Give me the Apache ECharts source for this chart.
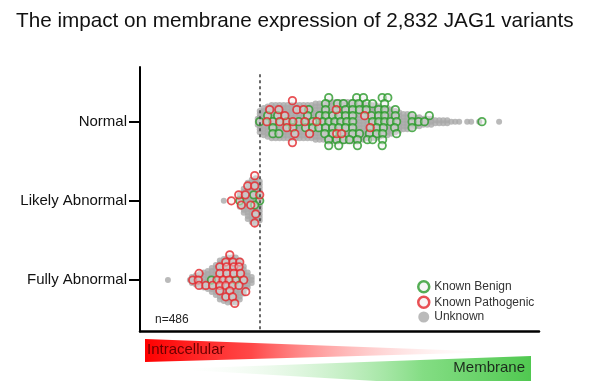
<!DOCTYPE html>
<html><head><meta charset="utf-8">
<script src="https://cdn.jsdelivr.net/npm/echarts@6/dist/echarts.min.js"></script>
<style>html,body{margin:0;padding:0;background:#fff}#c{width:602px;height:381px}</style>
</head><body><div id="c"></div>
<script>
// ---- data ----
const titleText = 'The impact on membrane expression of 2,832 JAG1 variants';
const categories = ['Fully Abnormal', 'Likely Abnormal', 'Normal']; // bottom -> top
const membraneThreshold = 30;
const abnormalCountLabel = 'n=486';

// Unknown variants: [expression bin, number of variants stacked in the swarm]
const normalUnknown = [[29.5,3],[30,8],[31,10],[32,11],[33,12],[34,12],[35,12],[36,12],[37,12],[38,12],[39,12],[40,12],[41,12],[42,12],[43,12],[44,13],[45,13],[46,13],[47,14],[48,14],[49,14],[50,14],[51,14],[52,14],[53,14],[54,14],[55,13],[56,13],[57,12],[58,12],[59,12],[60,11],[61,10],[62,10],[63,9],[64,8],[65,7],[66,6],[67,6],[68,5],[69,4],[70,4],[71,3],[72,3],[73,3],[74,2],[75,2],[76,2],[77,2],[78,1],[79,1],[80,1],[82,1],[83,1],[85,1],[90,1]];
const likelyUnknown = [[21,1],[25,5],[26,9],[27,13],[28,15],[29,16],[30,14]];
const fullyUnknown = [[7,1],[12.5,1],[13,3],[14,4],[15,5],[16,6],[17,7],[18,9],[19,11],[20,14],[21,15],[22,16],[23,16],[24,16],[25,14],[26,10],[27,6],[28,3]];

// Known benign / pathogenic: [expression, swarm lane]
const normalBenign = [
 [47.3,4],[54.3,4],[56,4],[60.7,4],[62.1,4],
 [46.5,3],[49.5,3],[51,3],[53.3,3],[54.8,3],[56.8,3],[58.3,3],[61.3,3],
 [42.3,2],[46.5,2],[51.5,2],[53.3,2],[55,2],[56.7,2],[59.8,2],[61.3,2],[64,2],
 [32,1],[34.5,1],[42,1],[45,1],[46.5,1],[48.3,1],[49.8,1],[51.5,1],[53.3,1],[58,1],[59.8,1],[61.3,1],[64,1],[68.2,1],[72.5,1],
 [30,0],[33.3,0],[36.8,0],[39.8,0],[43.3,0],[45.8,0],[47.3,0],[48.8,0],[50.3,0],[51.8,0],[53.3,0],[58.3,0],[59.8,0],[61.3,0],[62.8,0],[64.3,0],[68.2,0],[69.8,0],[71.3,0],[85.7,0],
 [33.3,-1],[38.3,-1],[41.5,-1],[43.3,-1],[44.8,-1],[46.5,-1],[48.3,-1],[49.8,-1],[51.5,-1],[53.3,-1],[59.3,-1],[61,-1],[63.8,-1],[68.2,-1],
 [33.3,-2],[34.8,-2],[46.3,-2],[48.3,-2],[53.3,-2],[55,-2],[57.5,-2],[59.3,-2],[60.8,-2],[64.3,-2],
 [47.3,-3],[49.3,-3],[51,-3],[52.5,-3],[54.5,-3],[57,-3],[58.3,-3],[60.8,-3],
 [47.3,-4],[49.8,-4],[54.5,-4],[60.7,-4]
];
const normalPathogenic = [
 [38.2,3.5],[32.5,2],[34.8,2],[39.3,2],[41,2],[49.2,2],[36.3,1],[56.3,1],
 [31.8,0],[35,0],[38.3,0],[41.3,0],[44.3,0],[36.8,-1],[57.7,-1],
 [38.8,-2],[42.5,-2],[49.3,-2],[50.5,-2],[38.2,-3.5]
];
const likelyBenign = [[28.5,1],[25,0],[30,0],[28.75,-0.7]];
const likelyPathogenic = [[28.75,4.2],[27,2.5],[28.75,2.5],[24.75,1],[26.4,1],[30,1],[22.9,0],[25.4,-0.7],[27.75,-0.7],[29,-2.2],[28.75,-3.7]];
const fullyBenign = [[17.9,0],[24,0]];
const fullyPathogenic = [
 [22.5,4.2],[21.5,3],[23.3,3],[25,3],
 [20,2.2],[21.7,2.2],[23.5,2.2],[24.8,2.2],
 [14.8,1.1],[20,1.1],[21.75,1.1],[23.5,1.1],[25.2,1.1],
 [13.2,0],[14.6,0],[19.3,0],[20.8,0],[22.3,0],[26,0],
 [14.8,-0.9],[16.5,-0.9],[18.2,-0.9],[20,-0.9],[21.5,-0.9],[23.2,-0.9],[24.8,-0.9],
 [20,-1.8],[22.5,-1.8],[26.5,-1.95],
 [21.5,-2.8],[23.2,-2.8],[23.75,-3.9]
];

// ---- swarm layout (vertical spread inside each category band) ----
const laneStep = 0.0757;   // one ring diameter in y-axis units
const stackStep = 0.038;   // spacing of stacked unknown dots
function stackUnknown(bins, catIdx) {
  const pts = [];
  bins.forEach(([x, n]) => {
    for (let j = 0; j < n; j++) pts.push([x, catIdx + 1 + (j - (n - 1) / 2) * stackStep]);
  });
  return pts;
}
function lanes(list, catIdx) { return list.map(([x, lane]) => [x, catIdx + 1 + lane * laneStep]); }

const unknownPts = [].concat(stackUnknown(fullyUnknown, 0), stackUnknown(likelyUnknown, 1), stackUnknown(normalUnknown, 2));
const benignPts = [].concat(lanes(fullyBenign, 0), lanes(likelyBenign, 1), lanes(normalBenign, 2));
const pathoPts = [].concat(lanes(fullyPathogenic, 0), lanes(likelyPathogenic, 1), lanes(normalPathogenic, 2));

const FONT = '"Liberation Sans", Arial, sans-serif';
const chart = echarts.init(document.getElementById('c'), null, {renderer: 'canvas'});
chart.setOption({
  animation: false,
  backgroundColor: '#fff',
  title: {text: titleText, left: 11, top: 6,
    textStyle: {fontFamily: FONT, fontSize: 20.7, fontWeight: 'normal', color: '#111'}},
  grid: {left: 140, right: 63, top: 67, bottom: 49.5},
  xAxis: {type: 'value', min: 0, max: 100, axisLabel: {show: false}, axisTick: {show: false},
    splitLine: {show: false}, axisLine: {lineStyle: {color: '#000', width: 2.5}}},
  yAxis: {type: 'value', min: 0.35, max: 3.69, splitLine: {show: false},
    axisLine: {show: true, lineStyle: {color: '#000', width: 2}},
    axisTick: {show: true, length: 11, customValues: [1, 2, 3], lineStyle: {color: '#000', width: 2}},
    axisLabel: {customValues: [1, 2, 3], margin: 13, formatter: v => categories[Math.round(v) - 1] || '',
      fontFamily: FONT, fontSize: 15, color: '#111'}},
  legend: {orient: 'vertical', left: 412, top: 275, itemGap: 2, itemWidth: 11, itemHeight: 11,
    textStyle: {fontFamily: FONT, fontSize: 12, color: '#333'},
    data: [{name: 'Known Benign', itemStyle: {borderWidth: 2.5}},
           {name: 'Known Pathogenic', itemStyle: {borderWidth: 2.5}},
           {name: 'Unknown'}]},
  series: [
    {name: 'Unknown', type: 'scatter', data: unknownPts, symbolSize: 6, progressive: 0, z: 1,
      itemStyle: {color: '#a9a9a9'},
      markLine: {silent: true, symbol: 'none', label: {show: false},
        lineStyle: {type: [3, 3], color: '#444', width: 1.6},
        data: [[{coord: [membraneThreshold, 3.6]}, {coord: [membraneThreshold, 0.35]}]]}},
    {name: 'Known Benign', type: 'scatter', data: benignPts, symbolSize: 7.5, progressive: 0, z: 2,
      itemStyle: {color: 'rgba(235,235,235,0.55)', borderColor: '#2a9a2a', borderWidth: 1.8}},
    {name: 'Known Pathogenic', type: 'scatter', data: pathoPts, symbolSize: 7.5, progressive: 0, z: 3,
      itemStyle: {color: 'rgba(240,235,235,0.55)', borderColor: '#e3262b', borderWidth: 1.8}}
  ],
  graphic: [
    {type: 'text', left: 155, top: 314, style: {text: abnormalCountLabel, fontFamily: FONT, fontSize: 12, fill: '#222'}},
    {type: 'polygon', shape: {points: [[145, 339], [500, 352], [145, 362]]},
      style: {fill: new echarts.graphic.LinearGradient(0, 0, 1, 0, [
        {offset: 0, color: 'rgba(255,0,0,1)'}, {offset: 0.3, color: 'rgba(255,40,40,0.85)'},
        {offset: 1, color: 'rgba(255,255,255,0)'}])}},
    {type: 'polygon', shape: {points: [[170, 369], [531, 356], [531, 390]]},
      style: {fill: new echarts.graphic.LinearGradient(0, 0, 1, 0, [
        {offset: 0, color: 'rgba(255,255,255,0)'}, {offset: 0.7, color: 'rgba(110,215,110,0.85)'},
        {offset: 1, color: 'rgba(80,200,80,1)'}])}},
    {type: 'text', left: 147, top: 342, style: {text: 'Intracellular', fontFamily: FONT, fontSize: 15, fill: '#6a0000'}},
    {type: 'text', right: 77, top: 360, style: {text: 'Membrane', fontFamily: FONT, fontSize: 15, fill: '#1c2a1c'}}
  ]
});
</script></body></html>
